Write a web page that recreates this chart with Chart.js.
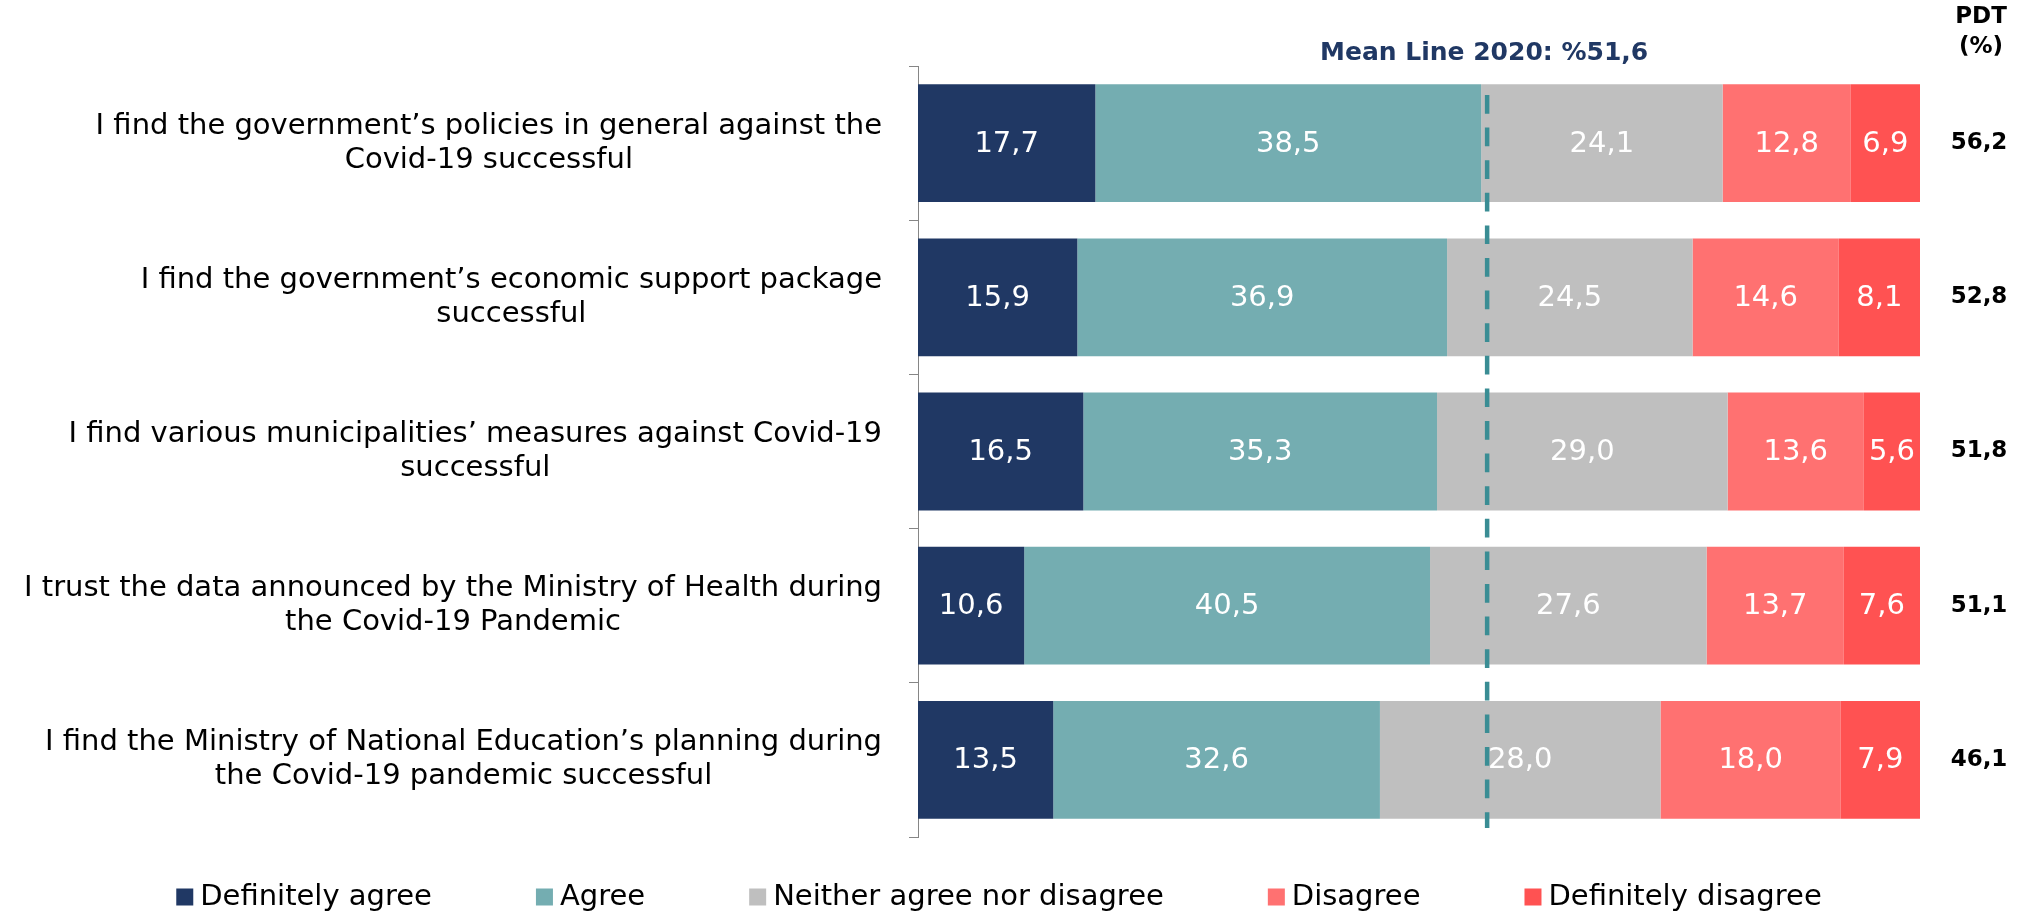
<!DOCTYPE html>
<html>
<head>
<meta charset="utf-8">
<script src="https://cdn.jsdelivr.net/npm/chart.js@4"></script>
<style>
html,body{margin:0;padding:0;background:#ffffff;overflow:hidden}
canvas{display:block}
</style>
</head>
<body>
<canvas id="c" width="2023" height="914"></canvas>
<script>
// ---------- DATA ----------
const categories = [
  ["I find the government’s policies in general against the", "Covid-19 successful"],
  ["I find the government’s economic support package", "successful"],
  ["I find various municipalities’ measures against Covid-19", "successful"],
  ["I trust the data announced by the Ministry of Health during", "the Covid-19 Pandemic"],
  ["I find the Ministry of National Education’s planning during", "the Covid-19 pandemic successful"]
];
const seriesNames = ["Definitely agree", "Agree", "Neither agree nor disagree", "Disagree", "Definitely disagree"];
const definitelyAgree    = [17.7, 15.9, 16.5, 10.6, 13.5];
const agree              = [38.5, 36.9, 35.3, 40.5, 32.6];
const neitherAgree       = [24.1, 24.5, 29.0, 27.6, 28.0];
const disagree           = [12.8, 14.6, 13.6, 13.7, 18.0];
const definitelyDisagree = [6.9, 8.1, 5.6, 7.6, 7.9];
const pdtValues          = [56.2, 52.8, 51.8, 51.1, 46.1];
const pdtHeader = ["PDT", "(%)"];
const meanLineLabel = "Mean Line 2020: %51,6";
const meanLineValue = 56.8;   // where the dashed line sits on the 0–100 scale in the picture
const xMin = 0, xMax = 100;

// ---------- STYLE ----------
const seriesColors = ["#203864", "#74ADB1", "#BFBFBF", "#FF7171", "#FF5252"];
const FONT = '"DejaVu Sans", Verdana, sans-serif';
const fmt = v => v.toFixed(1).replace('.', ',');

const seriesValues = [definitelyAgree, agree, neitherAgree, disagree, definitelyDisagree];

const datasets = seriesNames.map((name, i) => ({
  label: name,
  data: seriesValues[i],
  backgroundColor: seriesColors[i],
  borderWidth: 0,
  categoryPercentage: 1.0,
  barPercentage: 0.764
}));

const overlayPlugin = {
  id: 'overlay',
  afterDatasetsDraw(chart) {
    const ctx = chart.ctx;
    const area = chart.chartArea;
    const xs = chart.scales.x, ys = chart.scales.y;
    ctx.save();

    // mean dashed line
    const mx = xs.getPixelForValue(meanLineValue);
    ctx.strokeStyle = '#3A8D94';
    ctx.lineWidth = 4.5;
    ctx.setLineDash([18.7, 13.9]);
    ctx.beginPath();
    ctx.moveTo(mx, area.top + 29);
    ctx.lineTo(mx, area.bottom - 9);
    ctx.stroke();
    ctx.setLineDash([]);

    // segment value labels
    ctx.font = '29px ' + FONT;
    ctx.fillStyle = '#ffffff';
    ctx.textAlign = 'center';
    ctx.textBaseline = 'middle';
    chart.data.datasets.forEach((ds, di) => {
      const meta = chart.getDatasetMeta(di);
      meta.data.forEach((bar, i) => {
        const p = bar.getProps(['x', 'y', 'base'], true);
        ctx.fillText(fmt(ds.data[i]), (p.x + p.base) / 2, p.y + 1);
      });
    });

    // mean label
    ctx.font = 'bold 25px ' + FONT;
    ctx.fillStyle = '#203864';
    ctx.fillText(meanLineLabel, mx - 3, area.top - 13);

    // PDT header and totals
    ctx.fillStyle = '#000000';
    ctx.font = 'bold 23px ' + FONT;
    const px = area.right + 61;
    ctx.fillText(pdtHeader[0], px, area.top - 49);
    ctx.fillText(pdtHeader[1], px, area.top - 19);
    pdtValues.forEach((v, i) => {
      ctx.fillText(fmt(v), area.right + 59, ys.getPixelForValue(i));
    });

    // category labels: block right-aligned, lines centred within block
    ctx.font = '29px ' + FONT;
    ctx.fillStyle = '#000000';
    const labelRight = area.left - 36;
    const lh = 34;
    categories.forEach((lines, i) => {
      const yc = ys.getPixelForValue(i);
      const maxW = Math.max(...lines.map(l => ctx.measureText(l).width));
      const cx = labelRight - maxW / 2;
      lines.forEach((l, j) => ctx.fillText(l, cx, yc + (j - (lines.length - 1) / 2) * lh));
    });

    // legend
    ctx.font = '29px ' + FONT;
    ctx.textAlign = 'left';
    const sq = 17, gapBox = 7, gapItem = 104;
    const widths = seriesNames.map(n => sq + gapBox + ctx.measureText(n).width);
    const total = widths.reduce((a, b) => a + b, 0) + gapItem * (widths.length - 1);
    let lx = 999 - total / 2;
    const ly = area.bottom + 60;
    seriesNames.forEach((n, i) => {
      ctx.fillStyle = seriesColors[i];
      ctx.fillRect(lx, ly - sq / 2, sq, sq);
      ctx.fillStyle = '#000000';
      ctx.fillText(n, lx + sq + gapBox, ly);
      lx += widths[i] + gapItem;
    });

    ctx.restore();
  }
};

Chart.defaults.font.family = FONT;

new Chart(document.getElementById('c'), {
  type: 'bar',
  data: { labels: categories, datasets },
  options: {
    indexAxis: 'y',
    responsive: false,
    devicePixelRatio: 1,
    animation: false,
    layout: { padding: { top: 66, right: 103, bottom: 77, left: 0 } },
    plugins: { legend: { display: false }, tooltip: { enabled: false }, title: { display: false } },
    scales: {
      x: { stacked: true, min: xMin, max: xMax, display: false },
      y: {
        stacked: true,
        ticks: { display: false },
        grid: { display: true, drawOnChartArea: false, drawTicks: true, tickLength: 9, color: '#868686', offset: true, lineWidth: 1 },
        border: { display: true, color: '#868686', width: 1 },
        afterFit(scale) { scale.width = 918; }
      }
    }
  },
  plugins: [overlayPlugin]
});
</script>
</body>
</html>
